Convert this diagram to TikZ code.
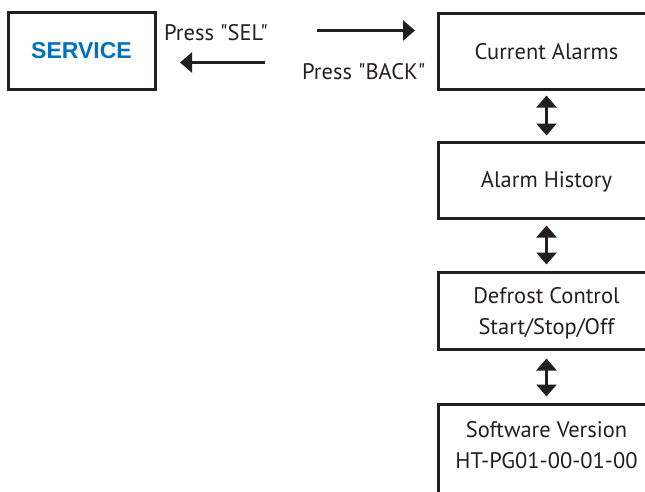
\documentclass[tikz,border=0pt]{standalone}
\usepackage{fontspec}
\setmainfont{PT Sans}[Ligatures=TeXOff]
\newfontfamily\boldsans{Liberation Sans}
\usetikzlibrary{arrows.meta}
\definecolor{ink}{HTML}{231F20}
\definecolor{svcblue}{HTML}{0072BC}
\begin{document}
\begin{tikzpicture}[x=1pt,y=-1pt,
  box/.style={draw=ink,line width=3pt,minimum width=217pt,inner sep=0pt,text=ink},
  lbl/.style={inner sep=0pt,text=ink,font=\fontsize{22.5}{26}\selectfont},
  btxt/.style={inner sep=0pt,text=ink,align=center,font=\fontsize{22.5}{31}\selectfont},
  harrow/.style={draw=ink,line width=2.6pt,-{Triangle[width=20pt,length=12pt]}},
  varrow/.style={draw=ink,line width=2.6pt,{Triangle[width=20pt,length=12pt]}-{Triangle[width=20pt,length=12pt]}}]
\useasboundingbox (0,0) rectangle (645,491);
\clip (0,0) rectangle (645,491);
% SERVICE box
\node[box,minimum width=147pt,minimum height=77pt] (svc) at (81.5,51) {};
\node[inner sep=0pt,text=svcblue,font=\boldsans\bfseries\fontsize{23}{26}\selectfont] (svct) at (81.5,51) {SERVICE};
% right column boxes
\node[box,minimum height=76pt] (ca) at (546.5,51) {};
\node[btxt] (cat) at (546.5,52) {Current Alarms};
\node[box,minimum height=76pt] (ah) at (546.5,180) {};
\node[btxt] (aht) at (546.5,182) {Alarm History};
\node[box,minimum height=77pt] (dc) at (546.5,310.5) {};
\node[btxt] (dct) at (546.5,313) {Defrost Control\\Start/Stop/Off};
\node[box,minimum height=140pt] (sw) at (546.5,474) {};
\node[btxt] (swt) at (546.5,445) {Software Version\\HT-PG01-00-01-00};
% labels
\node[lbl,anchor=base west] (sel) at (164,40.5) {Press "SEL"};
\node[lbl,anchor=base west] (back) at (302,79) {Press "BACK"};
% horizontal arrows
\coordinate (r1) at (317,30.5);
\coordinate (r2) at (415,30.5);
\coordinate (l1) at (265,62.5);
\coordinate (l2) at (180,62.5);
\draw[harrow] (r1) -- (r2);
\draw[harrow] (l1) -- (l2);
% vertical double arrows
\draw[varrow,shorten <=5pt,shorten >=5pt] (ca.south) -- (ah.north);
\draw[varrow,shorten <=6pt,shorten >=6pt] (ah.south) -- (dc.north);
\draw[varrow,shorten <=8pt,shorten >=6pt] (dc.south) -- (sw.north);
\end{tikzpicture}
\end{document}
